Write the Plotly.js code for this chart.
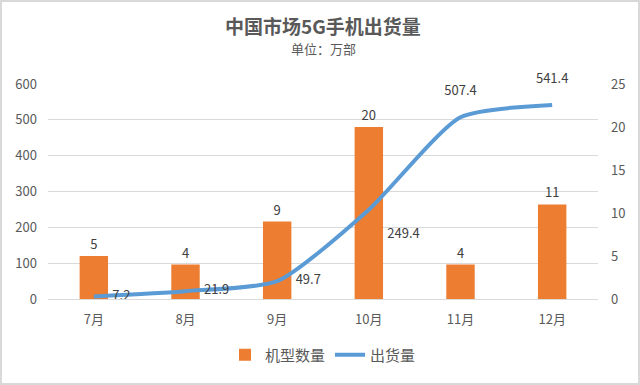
<!DOCTYPE html>
<html><head><meta charset="utf-8">
<script src="https://cdn.plot.ly/plotly-3.0.1.min.js"></script>
<style>html,body{margin:0;padding:0;background:#fff;}#c{width:636px;height:381px;border:2px solid #d9d9d9;}</style>
</head><body><div id="c"></div>
<script>
const months = ['7月','8月','9月','10月','11月','12月'];
const modelCount = [5, 4, 9, 20, 4, 11];
const shipments = [7.2, 21.9, 49.7, 249.4, 507.4, 541.4];
const shipLabelPos = ['middle right','middle right','middle right','bottom right','top center','top center'];
const titleText = '中国市场5G手机出货量';
const subtitleText = '单位：万部';

const font = "'Noto Sans CJK SC', 'Noto Sans', sans-serif";
const traces = [
  {type:'bar', name:'机型数量', x:months, y:modelCount, yaxis:'y', width:0.31,
   marker:{color:'#ED7D31'}, text:modelCount.map(String), textposition:'outside',
   textfont:{size:13,color:'#404040',family:font}, cliponaxis:false},
  {type:'scatter', mode:'lines', name:'出货量', x:months, y:shipments, yaxis:'y2',
   line:{color:'#5B9BD5', width:4, shape:'spline', smoothing:0.6}, cliponaxis:false},
  {type:'scatter', mode:'markers+text', name:'出货量标签', showlegend:false, x:months, y:shipments, yaxis:'y2',
   marker:{size:28, opacity:0, color:'#5B9BD5'},
   text:shipments.map(v=>v.toFixed(1)), textposition:shipLabelPos,
   textfont:{size:13,color:'#404040',family:font}, cliponaxis:false}
];
const layout = {
  width:636, height:381,
  margin:{l:46, r:40, t:82, b:81},
  paper_bgcolor:'#fff', plot_bgcolor:'#fff',
  font:{family:font, color:'#595959', size:13},
  annotations:[
    {text:titleText, xref:'paper', yref:'paper', x:0.5, y:1.272, xanchor:'center', yanchor:'middle', showarrow:false, font:{size:19,color:'#595959',family:font, weight:600}},
    {text:subtitleText, xref:'paper', yref:'paper', x:0.5, y:1.165, xanchor:'center', yanchor:'middle', showarrow:false, font:{size:13,color:'#595959',family:font}}
  ],
  showlegend:true,
  legend:{orientation:'h', x:0.5, xanchor:'center', y:-0.26, yanchor:'middle', font:{size:15,color:'#595959'}, traceorder:'normal'},
  xaxis:{type:'category', showgrid:false, showline:true, linecolor:'#d9d9d9', linewidth:1, ticks:'', tickfont:{size:13}, ticklabelstandoff:8},
  yaxis:{side:'right', range:[0,25], dtick:5, showgrid:false, zeroline:false, ticks:'', tickfont:{size:13}, ticklabelstandoff:12},
  yaxis2:{side:'left', overlaying:'y', range:[0,600], dtick:100, showgrid:true, gridcolor:'#d9d9d9', zeroline:false, ticks:'', tickfont:{size:13}, ticklabelstandoff:10},
  bargap:0.69
};
Plotly.newPlot('c', traces, layout, {displayModeBar:false, staticPlot:true});
</script></body></html>
